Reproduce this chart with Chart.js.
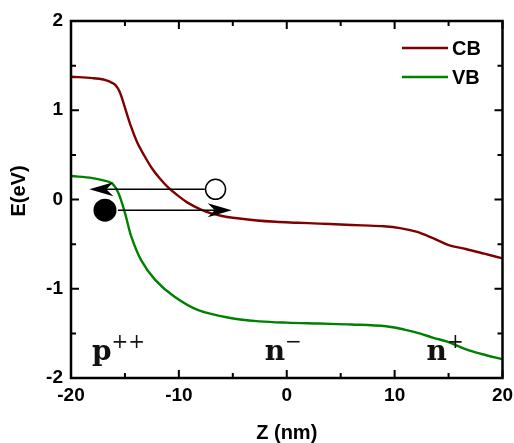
<!DOCTYPE html>
<html>
<head>
<meta charset="utf-8">
<script src="https://cdn.jsdelivr.net/npm/chart.js@4.4.1/dist/chart.umd.min.js"></script>
<style>
  html, body { margin: 0; padding: 0; background: #ffffff; }
  #wrap { width: 514px; height: 443px; }
</style>
</head>
<body>
<div id="wrap"><canvas id="c" width="514" height="443"></canvas></div>
<script>
// Band edges across the p++ / n- / n+ structure
const bandNames = ['CB', 'VB'];
const bandColors = ['#800000', '#008000'];

const cbZ = [-20, -18, -17, -16.4, -15.9, -15.5, -15, -14.5, -13.9, -13.2, -12.5, -11.8, -11, -10, -9.2, -8, -7, -6, -5, -3, -1, 1, 3, 5, 7, 9, 10.5, 12, 13.5, 15, 16.6, 18.3, 20];
const cbE = [1.376, 1.36, 1.345, 1.32, 1.285, 1.21, 1.03, 0.84, 0.65, 0.49, 0.35, 0.24, 0.135, 0.035, -0.035, -0.11, -0.155, -0.185, -0.205, -0.232, -0.25, -0.26, -0.27, -0.28, -0.29, -0.30, -0.32, -0.36, -0.43, -0.51, -0.555, -0.607, -0.66];

const vbZ = [-20, -18, -17, -16.2, -15.6, -15, -14.4, -13.5, -12.2, -10.4, -8.2, -5.1, -2.5, 0, 3, 6, 9.2, 11, 12.3, 13.6, 14.8, 16.9, 18.5, 20];
const vbE = [0.263, 0.24, 0.215, 0.18, 0.07, -0.15, -0.42, -0.68, -0.90, -1.09, -1.24, -1.33, -1.365, -1.38, -1.39, -1.40, -1.42, -1.46, -1.50, -1.55, -1.59, -1.69, -1.745, -1.79];

// Axis ticks (labelled every 10 nm / 1 eV, unlabelled in between)
const xTickStep = 5;
const yTickStep = 0.5;
const xLabelEvery = 10;
const yLabelEvery = 1;

// Carriers: hole (open) and electron (filled)
const holeZ = [-6.6];
const holeE = [0.114];
const electronZ = [-16.85];
const electronE = [-0.12];

// Carrier transfer arrows
const arrowFromZ = [-7.6, -15.65];
const arrowToZ = [-18.3, -5.1];
const arrowE = [0.114, -0.12];

// Doping regions
const regionBase = ['p', 'n', 'n'];
const regionSup = ['++', '\u2212', '+'];
const regionZ = [-18.06, -2.04, 12.96];
const regionE = [-1.80, -1.80, -1.80];

const toPoints = (zs, es) => zs.map((z, i) => ({ x: z, y: es[i] }));

const SANS = '"Liberation Sans", Arial, sans-serif';
const SERIF = '"DejaVu Serif", serif';

function arrowHead(ctx, x, y, dir) {
  const len = 24, half = 7, notch = 17;
  ctx.beginPath();
  ctx.moveTo(x, y);
  ctx.quadraticCurveTo(x - dir * len * 0.55, y - half * 0.55, x - dir * len, y - half);
  ctx.lineTo(x - dir * notch, y);
  ctx.lineTo(x - dir * len, y + half);
  ctx.quadraticCurveTo(x - dir * len * 0.55, y + half * 0.55, x, y);
  ctx.closePath();
  ctx.fill();
}

const decorations = {
  id: 'decorations',
  afterDatasetsDraw(chart) {
    const ctx = chart.ctx;
    const xs = chart.scales.x, ys = chart.scales.y;
    ctx.save();
    ctx.strokeStyle = '#000';
    ctx.fillStyle = '#000';
    ctx.lineWidth = 1.5;
    for (let i = 0; i < arrowE.length; i++) {
      const x0 = xs.getPixelForValue(arrowFromZ[i]);
      const x1 = xs.getPixelForValue(arrowToZ[i]);
      const y = ys.getPixelForValue(arrowE[i]);
      const dir = x1 > x0 ? 1 : -1;
      ctx.beginPath();
      ctx.moveTo(x0, y);
      ctx.lineTo(x1 - dir * 14, y);
      ctx.stroke();
      arrowHead(ctx, x1, y, dir);
    }
    ctx.restore();
  },
  afterDraw(chart) {
    const ctx = chart.ctx;
    const a = chart.chartArea;
    const xs = chart.scales.x, ys = chart.scales.y;
    ctx.save();

    // Frame
    ctx.strokeStyle = '#000';
    ctx.lineWidth = 2.5;
    ctx.strokeRect(a.left, a.top, a.right - a.left, a.bottom - a.top);

    // Inward tick marks on all four sides
    ctx.lineWidth = 2;
    xs.ticks.forEach(t => {
      const px = xs.getPixelForValue(t.value);
      const major = Math.abs(t.value % xLabelEvery) < 1e-6;
      const len = major ? 8 : 5;
      ctx.beginPath();
      ctx.moveTo(px, a.bottom); ctx.lineTo(px, a.bottom - len);
      ctx.moveTo(px, a.top); ctx.lineTo(px, a.top + len);
      ctx.stroke();
    });
    ys.ticks.forEach(t => {
      const py = ys.getPixelForValue(t.value);
      const major = Math.abs(t.value % yLabelEvery) < 1e-6;
      const len = major ? 8 : 5;
      ctx.beginPath();
      ctx.moveTo(a.left, py); ctx.lineTo(a.left + len, py);
      ctx.moveTo(a.right, py); ctx.lineTo(a.right - len, py);
      ctx.stroke();
    });

    // Axis titles
    ctx.fillStyle = '#000';
    ctx.font = 'bold 20px ' + SANS;
    ctx.textAlign = 'center';
    ctx.textBaseline = 'middle';
    ctx.fillText('Z (nm)', (a.left + a.right) / 2, 433);
    ctx.save();
    ctx.translate(19, 191);
    ctx.rotate(-Math.PI / 2);
    ctx.fillText('E(eV)', 0, 0);
    ctx.restore();

    // Legend
    const legendX = 402, legendY = [48, 77];
    chart.data.datasets.slice(0, bandNames.length).forEach((ds, i) => {
      ctx.strokeStyle = ds.borderColor;
      ctx.lineWidth = 2.4;
      ctx.beginPath();
      ctx.moveTo(legendX, legendY[i]);
      ctx.lineTo(legendX + 46, legendY[i]);
      ctx.stroke();
      ctx.fillStyle = '#000';
      ctx.font = 'bold 20px ' + SANS;
      ctx.textAlign = 'left';
      ctx.textBaseline = 'middle';
      ctx.fillText(ds.label, legendX + 50, legendY[i] + 1);
    });

    // Region labels
    ctx.fillStyle = '#111';
    ctx.textAlign = 'left';
    ctx.textBaseline = 'alphabetic';
    for (let i = 0; i < regionBase.length; i++) {
      const x = xs.getPixelForValue(regionZ[i]);
      const y = ys.getPixelForValue(regionE[i]);
      ctx.font = 'bold 28px ' + SERIF;
      ctx.fillText(regionBase[i], x, y);
      const w = ctx.measureText(regionBase[i]).width;
      ctx.font = '20px ' + SERIF;
      ctx.fillText(regionSup[i], x + w, y - 12);
    }
    ctx.restore();
  }
};

new Chart(document.getElementById('c'), {
  type: 'line',
  data: {
    datasets: [
      {
        label: bandNames[0],
        data: toPoints(cbZ, cbE),
        borderColor: bandColors[0],
        borderWidth: 2.4,
        pointRadius: 0,
        tension: 0.35,
        fill: false
      },
      {
        label: bandNames[1],
        data: toPoints(vbZ, vbE),
        borderColor: bandColors[1],
        borderWidth: 2.4,
        pointRadius: 0,
        tension: 0.35,
        fill: false
      },
      {
        label: 'hole',
        type: 'scatter',
        data: toPoints(holeZ, holeE),
        pointRadius: 10,
        pointBackgroundColor: '#ffffff',
        pointBorderColor: '#000000',
        pointBorderWidth: 1.5,
        showLine: false
      },
      {
        label: 'electron',
        type: 'scatter',
        data: toPoints(electronZ, electronE),
        pointRadius: 11.5,
        pointBackgroundColor: '#000000',
        pointBorderColor: '#000000',
        pointBorderWidth: 0,
        showLine: false
      }
    ]
  },
  options: {
    responsive: false,
    devicePixelRatio: 1,
    animation: false,
    events: [],
    layout: { padding: { left: 0, right: 11, top: 21, bottom: 0 } },
    plugins: { legend: { display: false }, tooltip: { enabled: false } },
    scales: {
      x: {
        type: 'linear',
        min: -20, max: 20,
        grid: { display: false, drawTicks: false },
        border: { display: false },
        afterFit(s) { s.height = 65; s.paddingLeft = 0; s.paddingRight = 0; },
        ticks: {
          stepSize: xTickStep,
          autoSkip: false,
          maxRotation: 0,
          padding: 6,
          color: '#000',
          font: { family: SANS, size: 19, weight: 'bold' },
          callback: v => (Math.abs(v % xLabelEvery) < 1e-6 ? String(v) : '')
        }
      },
      y: {
        type: 'linear',
        min: -2, max: 2,
        grid: { display: false, drawTicks: false },
        border: { display: false },
        afterFit(s) { s.width = 71; s.paddingTop = 0; s.paddingBottom = 0; },
        ticks: {
          stepSize: yTickStep,
          autoSkip: false,
          padding: 8,
          color: '#000',
          font: { family: SANS, size: 19, weight: 'bold' },
          callback: v => (Math.abs(v % yLabelEvery) < 1e-6 ? String(v) : '')
        }
      }
    }
  },
  plugins: [decorations]
});
</script>
</body>
</html>
